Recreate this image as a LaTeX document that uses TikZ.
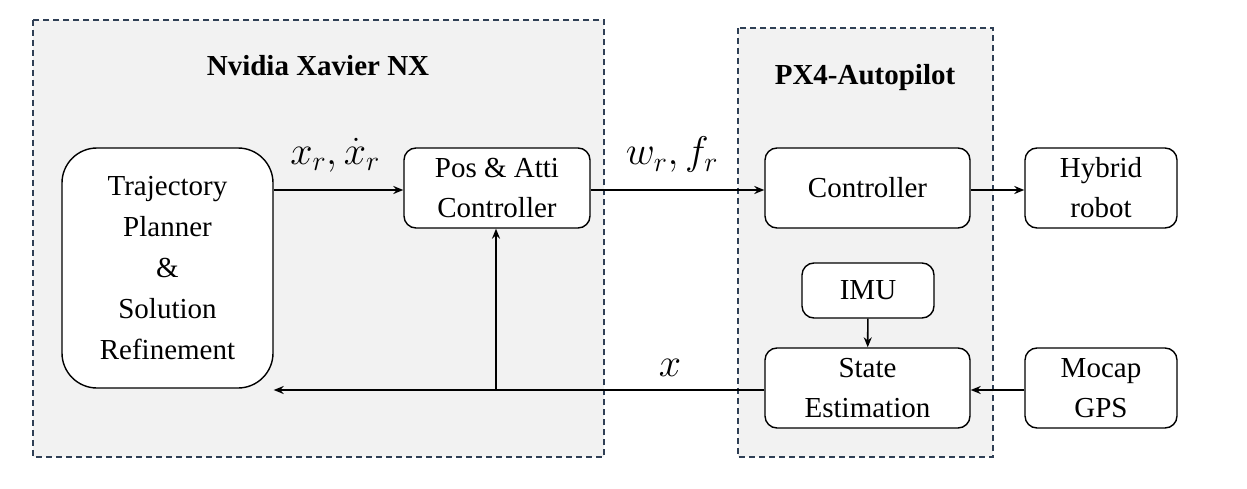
\documentclass[tikz,border=0pt]{standalone}
\usepackage{fix-cm}
\usepackage{fontspec}
\setmainfont{Liberation Serif}
\usetikzlibrary{arrows.meta}
\definecolor{dash}{HTML}{2F3F55}
\definecolor{bg}{HTML}{F2F2F2}
\begin{document}
\begin{tikzpicture}[x=1pt,y=-1pt,
  grp/.style={draw=dash,dashed,line width=1.6pt,fill=bg,dash pattern=on 6pt off 4pt},
  blk/.style={draw,line width=1.4pt,fill=white,rounded corners=12pt,align=center,font=\fontsize{29}{40}\selectfont},
  arr/.style={-{Stealth[length=10pt,width=8pt]},line width=1.6pt},
  lab/.style={font=\fontsize{40}{44}\selectfont}]
\useasboundingbox (0,0) rectangle (1247,489);
\draw[grp] (33,20) rectangle (604,457);
\draw[grp] (738,28) rectangle (993,457);
\node[font=\bfseries\fontsize{29}{34}\selectfont] (t1) at (318,66) {Nvidia Xavier NX};
\node[font=\bfseries\fontsize{29}{34}\selectfont] (t2) at (865,78) {PX4-Autopilot};
\node[blk,rounded corners=35pt,minimum width=211pt,minimum height=240pt,font=\fontsize{29}{41}\selectfont] (tp) at (167.5,268) {Trajectory\\Planner\\\&\\Solution\\Refinement};
\node[blk,minimum width=186pt,minimum height=80pt] (pc) at (497,188) {Pos \& Atti\\Controller};
\node[blk,minimum width=205pt,minimum height=80pt] (ct) at (867.5,188) {Controller};
\node[blk,minimum width=152pt,minimum height=80pt] (hr) at (1101,188) {Hybrid\\robot};
\node[blk,minimum width=132pt,minimum height=55pt] (imu) at (868,290.5) {IMU};
\node[blk,minimum width=205pt,minimum height=80pt] (se) at (867.5,388) {State\\Estimation};
\node[blk,minimum width=152pt,minimum height=80pt] (mg) at (1101,388) {Mocap\\GPS};
\coordinate (b) at (496,390);
\draw[arr] (tp.east|-0,190) -- (pc.west|-0,190);
\draw[arr] (pc.east|-0,190) -- (ct.west|-0,190);
\draw[arr] (ct.east|-0,190) -- (hr.west|-0,190);
\draw[arr] (imu) -- (se);
\draw[arr] (mg.west|-0,390) -- (se.east|-0,390);
\draw[arr] (se.west|-0,390) -- (tp.east|-0,390);
\draw[arr] (b) -- (pc.south-|b);
\node[lab] (l1) at (335,155) {$x_r,\dot{x}_r$};
\node[lab] (l2) at (672,155) {$w_r,f_r$};
\node[lab] (l3) at (670,368) {$x$};
\end{tikzpicture}
\end{document}
